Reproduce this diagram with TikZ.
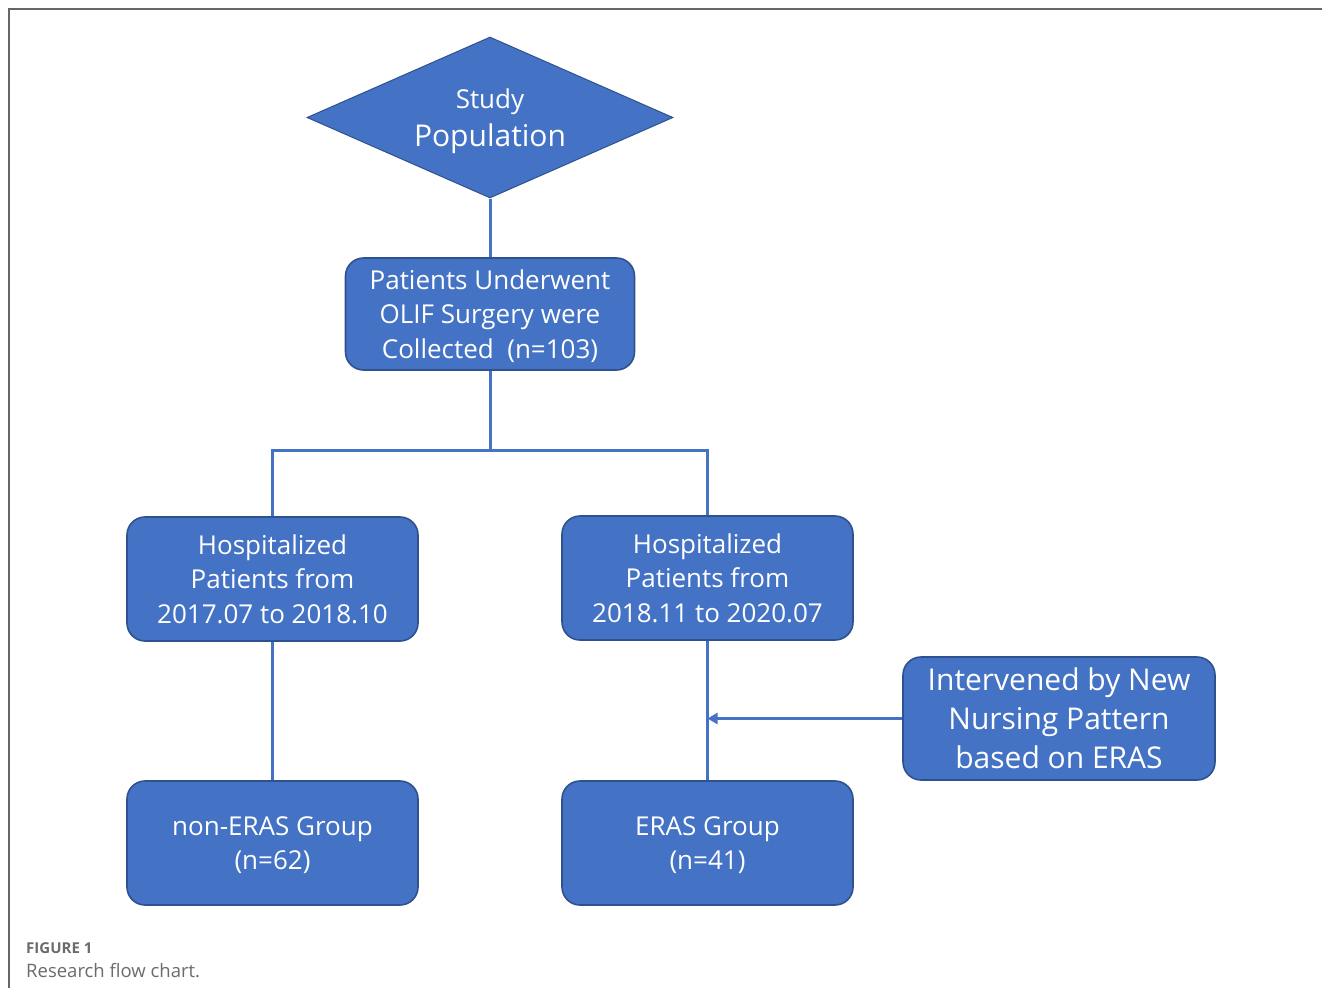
\documentclass[tikz,border=0pt]{standalone}
\usepackage{fontspec}
\setmainfont{Open Sans}
\usetikzlibrary{shapes.geometric,arrows.meta}
\definecolor{boxblue}{HTML}{4472C4}
\definecolor{boxedge}{HTML}{2F528F}
\definecolor{capgrey}{HTML}{6B6B6B}
\definecolor{framegrey}{HTML}{666666}
\tikzset{
  flowbox/.style={draw=boxedge, line width=1.6pt, fill=boxblue, rounded corners=18pt,
    text=white, align=center, inner sep=0pt, minimum width=291pt, minimum height=124pt,
    text depth=0pt, font=\fontsize{26}{34.5}\selectfont},
  decisionbox/.style={diamond, aspect=2.27, draw=boxedge, line width=1pt, fill=boxblue, text=white,
    align=center, inner sep=0pt, minimum width=366pt, minimum height=161pt, text depth=0pt},
  link/.style={draw=boxblue, line width=3pt},
  arrowlink/.style={link, -{Triangle[length=10pt,width=11pt]}},
}
\begin{document}
\begin{tikzpicture}[x=1pt,y=-1pt]
\useasboundingbox (0,0) rectangle (1322,988);
\draw[framegrey, line width=1.5pt] (1322,9) -- (9,9) -- (9,988);

\node[decisionbox] (study) at (490,117.5) {\fontsize{26}{30}\selectfont Study\\[8pt]\fontsize{30}{34}\selectfont Population};
\node[flowbox, minimum width=289pt, minimum height=112pt] (collected) at (490,314)
  {Patients Underwent\\OLIF Surgery were\\Collected\ \ (n=103)};
\node[flowbox] (early) at (272.5,579) {Hospitalized\\Patients from\\2017.07 to 2018.10};
\node[flowbox] (late) at (707.5,578) {Hospitalized\\Patients from\\2018.11 to 2020.07};
\node[flowbox] (noneras) at (272.5,843) {non-ERAS Group\\(n=62)};
\node[flowbox] (eras) at (707.5,843) {ERAS Group\\(n=41)};
\node[flowbox, minimum width=312pt, minimum height=123pt, text depth=-4pt, font=\fontsize{30}{39}\selectfont]
  (interv) at (1059,718.5) {Intervened by New\\Nursing Pattern\\based on ERAS};

\coordinate (split) at (490,450);
\coordinate (hit) at (late.south |- interv.west);

\draw[link] (study.south) -- (collected.north);
\draw[link] (collected.south) -- (split);
\draw[link] (early.north) |- (split) -| (late.north);
\draw[link] (early.south) -- (noneras.north);
\draw[link] (late.south) -- (eras.north);
\draw[arrowlink] (interv.west) -- (hit);

\node[anchor=base west, inner sep=0pt, text=capgrey, font=\fontsize{15}{17}\selectfont\bfseries] (figlabel) at (26,953) {FIGURE 1};
\node[anchor=base west, inner sep=0pt, text=capgrey, font=\fontsize{18.5}{21}\selectfont] (caption) at (26,977) {Research flow chart.};
\end{tikzpicture}
\end{document}
